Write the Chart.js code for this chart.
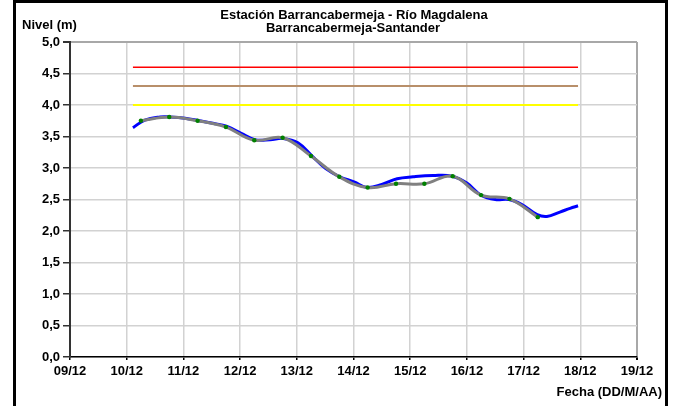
<!DOCTYPE html>
<html>
<head>
<meta charset="utf-8">
<script src="https://cdn.jsdelivr.net/npm/chart.js@4.4.1/dist/chart.umd.min.js"></script>
<style>
  html, body { margin: 0; padding: 0; background: #fff; }
  #wrap { width: 673px; height: 406px; position: relative; }
</style>
</head>
<body>
<div id="wrap"><canvas id="nivelChart" width="673" height="406"></canvas></div>
<script>
// Nivel horario (línea azul)
const hourDays = [10.11, 10.32, 10.59, 10.76, 11.03, 11.28, 11.52, 11.77, 12.02, 12.26, 12.53, 12.76,
  13.02, 13.27, 13.51, 13.76, 14.01, 14.24, 14.50, 14.77, 15.05, 15.40, 15.74, 16.00, 16.25,
  16.50, 16.74, 16.97, 17.24, 17.41, 17.64, 17.82, 17.96];
const hourLevels = [3.64, 3.76, 3.81, 3.81, 3.79, 3.75, 3.71, 3.66, 3.55, 3.45, 3.45, 3.47,
  3.40, 3.19, 2.99, 2.86, 2.78, 2.69, 2.74, 2.83, 2.86, 2.88, 2.87, 2.76, 2.57,
  2.50, 2.50, 2.42, 2.26, 2.23, 2.30, 2.36, 2.40];

// Lecturas de mira (línea gris con puntos verdes)
const obsDays = [10.25, 10.75, 11.25, 11.75, 12.25, 12.75, 13.25, 13.75, 14.25, 14.75, 15.25, 15.75, 16.25, 16.75, 17.25];
const obsLevels = [3.75, 3.81, 3.75, 3.65, 3.44, 3.48, 3.19, 2.86, 2.69, 2.75, 2.75, 2.87, 2.57, 2.51, 2.22];

// Niveles de alerta
const alertDays = [10.11, 17.96];
const redLevel = 4.6;
const brownLevel = 4.3;
const yellowLevel = 4.0;

const xMin = 9, xMax = 19;
const yMin = 0, yMax = 5;

const toPoints = (xs, ys) => xs.map((x, i) => ({ x: x, y: ys[i] }));
const flat = (v) => alertDays.map((x) => ({ x: x, y: v }));

const FONT = "Liberation Sans, Arial, sans-serif";

// Texts and frame
const decorations = {
  id: "decorations",
  afterDraw(chart) {
    const c = chart.ctx;
    c.save();
    c.fillStyle = "#000";
    c.font = "bold 13px " + FONT;
    c.textAlign = "center";
    c.textBaseline = "middle";
    c.fillText("Estación Barrancabermeja - Río Magdalena", 354, 15);
    c.fillText("Barrancabermeja-Santander", 353, 28);
    c.textAlign = "left";
    c.fillText("Nivel (m)", 22, 25);
    c.textAlign = "right";
    c.fillText("Fecha (DD/M/AA)", 662, 392);
    // black frame
    c.fillRect(13, 0, 655, 3);
    c.fillRect(13, 0, 3, 406);
    c.fillRect(665, 0, 3, 406);
    c.restore();
  },
};

new Chart(document.getElementById("nivelChart"), {
  type: "line",
  data: {
    datasets: [
      {
        data: toPoints(obsDays, obsLevels),
        borderColor: "#808080",
        borderWidth: 3,
        pointBackgroundColor: "#008000",
        pointBorderColor: "#008000",
        pointRadius: 2.2,
        pointBorderWidth: 0,
        tension: 0.4,
        order: 1,
      },
      {
        data: toPoints(hourDays, hourLevels),
        borderColor: "#0000ff",
        borderWidth: 3,
        pointRadius: 0,
        tension: 0.4,
        order: 2,
      },
      { data: flat(redLevel), borderColor: "#ff0000", borderWidth: 1.5, pointRadius: 0, order: 3 },
      { data: flat(brownLevel), borderColor: "#b88f6a", borderWidth: 2, pointRadius: 0, order: 3 },
      { data: flat(yellowLevel), borderColor: "#ffff00", borderWidth: 2, pointRadius: 0, order: 3 },
    ],
  },
  options: {
    responsive: false,
    animation: false,
    events: [],
    layout: { padding: { left: 13, right: 36, top: 42, bottom: 19 } },
    plugins: {
      legend: { display: false },
      title: { display: false },
      tooltip: { enabled: false },
    },
    scales: {
      x: {
        type: "linear",
        min: xMin,
        max: xMax,
        afterFit: (scale) => { scale.height = 30; },
        ticks: {
          stepSize: 1,
          color: "#000",
          padding: 4,
          maxRotation: 0,
          font: { family: FONT, size: 13, weight: "bold" },
          callback: (v) => String(v).padStart(2, "0") + "/12",
        },
        grid: {
          color: (ctx) => (ctx.tick && ctx.tick.value === xMax ? "#a8a8a8" : "#d2d2d2"),
          lineWidth: (ctx) => (ctx.tick && ctx.tick.value === xMax ? 2 : 1.5),
          tickLength: 3,
          tickColor: "#000",
        },
        border: { color: "#000", width: 1.5 },
      },
      y: {
        min: yMin,
        max: yMax,
        afterFit: (scale) => { scale.width = 57; },
        ticks: {
          stepSize: 0.5,
          color: "#000",
          padding: 3,
          font: { family: FONT, size: 13, weight: "bold" },
          callback: (v) => v.toFixed(1).replace(".", ","),
        },
        grid: {
          color: (ctx) => (ctx.tick && ctx.tick.value === yMax ? "#a8a8a8" : "#d2d2d2"),
          lineWidth: (ctx) => (ctx.tick && ctx.tick.value === yMax ? 2 : 1.5),
          tickLength: 7,
          tickColor: "#333",
        },
        border: { color: "#333", width: 2 },
      },
    },
  },
  plugins: [decorations],
});
</script>
</body>
</html>
